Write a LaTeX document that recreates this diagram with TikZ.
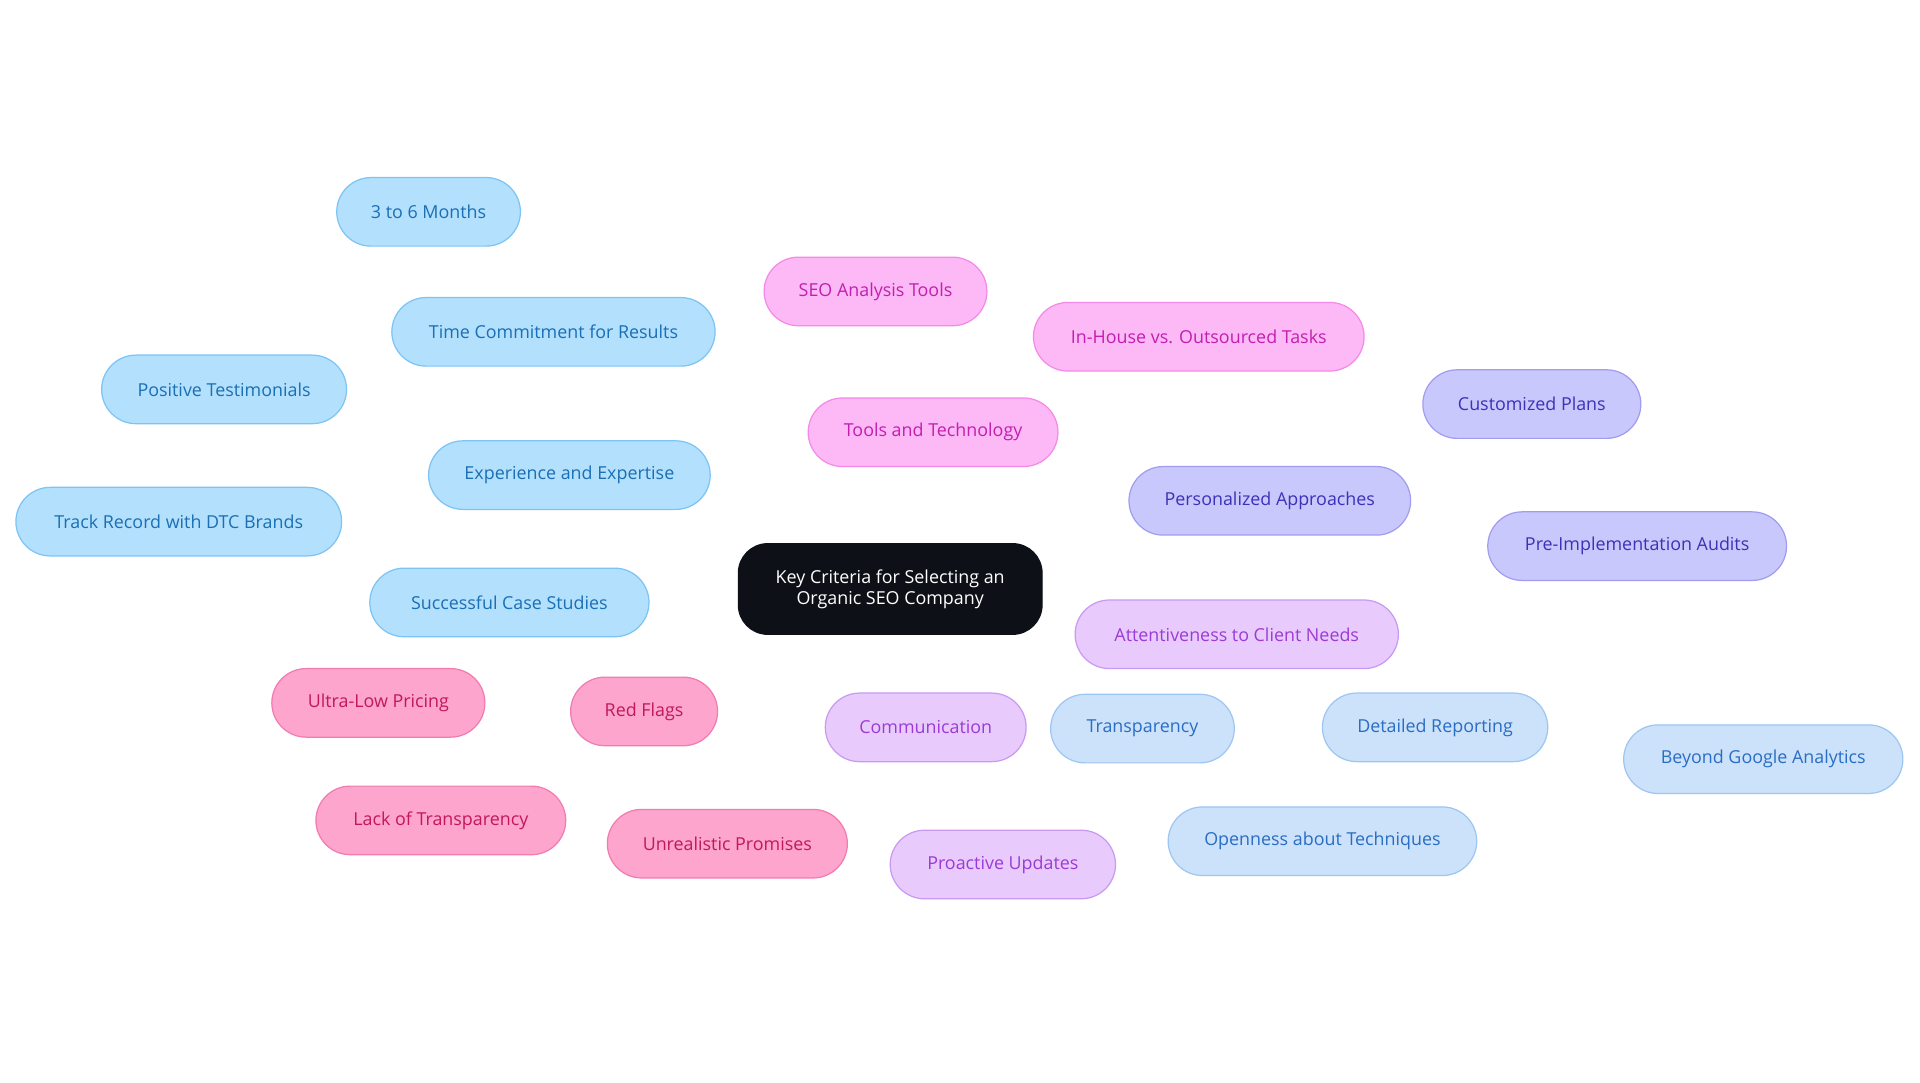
\documentclass[tikz,border=0pt]{standalone}
\usepackage{fontspec}
\setmainfont{Open Sans}
\usetikzlibrary{backgrounds}
\definecolor{bF}{HTML}{B3E0FD}\definecolor{bD}{HTML}{7CC4F5}\definecolor{bT}{HTML}{1A6FB5}
\definecolor{mF}{HTML}{FDB8F6}\definecolor{mD}{HTML}{F48AE8}\definecolor{mT}{HTML}{C21FB0}
\definecolor{pF}{HTML}{C9C8FC}\definecolor{pD}{HTML}{A29CF0}\definecolor{pT}{HTML}{3B32B8}
\definecolor{lF}{HTML}{E8CBFC}\definecolor{lD}{HTML}{C99AF2}\definecolor{lT}{HTML}{9B3BD6}
\definecolor{tF}{HTML}{CCE2FA}\definecolor{tD}{HTML}{9EC6F2}\definecolor{tT}{HTML}{2A6DC4}
\definecolor{rF}{HTML}{FDA5CC}\definecolor{rD}{HTML}{F27BB0}\definecolor{rT}{HTML}{C2185B}
\definecolor{ctr}{HTML}{0D1117}
\tikzset{
 base/.style={rounded corners=14pt,minimum height=28pt,inner sep=0pt,font=\fontsize{7.3}{8.5}\selectfont,line width=0.5pt,align=center},
 bl/.style={base,fill=bF,draw=bD,text=bT},
 mg/.style={base,fill=mF,draw=mD,text=mT},
 pu/.style={base,fill=pF,draw=pD,text=pT},
 lv/.style={base,fill=lF,draw=lD,text=lT},
 tb/.style={base,fill=tF,draw=tD,text=tT},
 rs/.style={base,fill=rF,draw=rD,text=rT},
 w/.style={minimum width=#1*0.5pt},
 ed/.style={line width=1pt,draw=#1},
}
\begin{document}
\begin{tikzpicture}[x=0.5pt,y=-0.5pt]
\useasboundingbox[fill=white] (0,0) rectangle (1568,884);
\node[base,fill=ctr,draw=ctr,text=white,w=248,minimum height=37pt,rounded corners=12pt] (c) at (727,481) {Key Criteria for Selecting an\\Organic SEO Company};
\node[bl,w=230] (ee) at (465,388) {Experience and Expertise};
\node[bl,w=264] (tc) at (452,271) {Time Commitment for Results};
\node[bl,w=150] (m36) at (350,173) {3 to 6 Months};
\node[bl,w=200] (pt) at (183,318) {Positive Testimonials};
\node[bl,w=266] (tr) at (146,426) {Track Record with DTC Brands};
\node[bl,w=228] (sc) at (416,492) {Successful Case Studies};
\node[mg,w=204] (tt) at (762,353) {Tools and Technology};
\node[mg,w=182] (sa) at (715,238) {SEO Analysis Tools};
\node[mg,w=270] (ih) at (979,275) {In-House vs. Outsourced Tasks};
\node[pu,w=230] (pa) at (1037,409) {Personalized Approaches};
\node[pu,w=178] (cp) at (1251,330) {Customized Plans};
\node[pu,w=244] (pi) at (1337,446) {Pre-Implementation Audits};
\node[lv,w=164] (co) at (756,594) {Communication};
\node[lv,w=264] (at) at (1010,518) {Attentiveness to Client Needs};
\node[lv,w=184] (pr) at (819,706) {Proactive Updates};
\node[tb,w=150] (tp) at (933,595) {Transparency};
\node[tb,w=184] (dr) at (1172,594) {Detailed Reporting};
\node[tb,w=228] (bg) at (1440,620) {Beyond Google Analytics};
\node[tb,w=252] (ot) at (1080,687) {Openness about Techniques};
\node[rs,w=120] (rf) at (526,581) {Red Flags};
\node[rs,w=174] (ul) at (309,574) {Ultra-Low Pricing};
\node[rs,w=204] (lt) at (360,670) {Lack of Transparency};
\node[rs,w=196] (up) at (594,689) {Unrealistic Promises};
\begin{pgfonlayer}{background}
\draw[ed=bD] (c)--(ee) (ee)--(tc) (tc)--(m36) (ee)--(pt) (ee)--(tr) (ee)--(sc);
\draw[ed=mD] (c)--(tt) (tt)--(sa) (tt)--(ih);
\draw[ed=pD] (c)--(pa) (pa)--(cp) (pa)--(pi);
\draw[ed=lD] (c)--(co) (co)--(at) (co)--(pr);
\draw[ed=tD] (c)--(tp) (tp)--(dr) (dr)--(bg) (tp)--(ot);
\draw[ed=rD] (c)--(rf) (rf)--(ul) (rf)--(lt) (rf)--(up);
\end{pgfonlayer}
\end{tikzpicture}
\end{document}
